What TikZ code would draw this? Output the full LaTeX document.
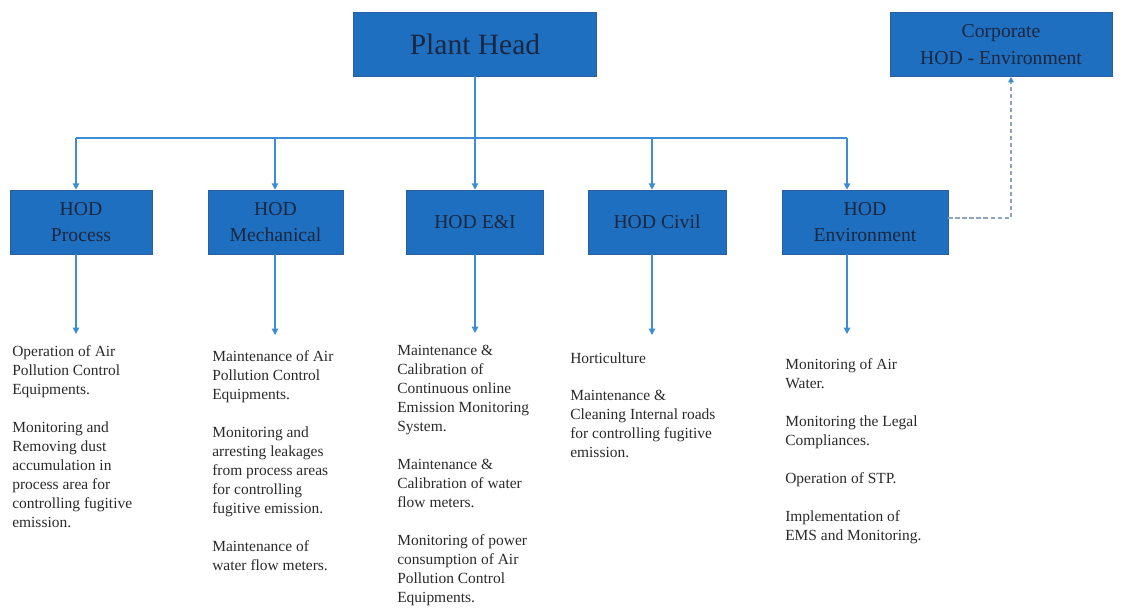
\documentclass[tikz,border=0pt]{standalone}
\usepackage{fontspec}
\setmainfont{Liberation Serif}
\usetikzlibrary{arrows.meta,positioning}
\definecolor{boxblue}{HTML}{1F6FC0}
\definecolor{boxedge}{HTML}{2B5E9C}
\definecolor{linkblue}{HTML}{3C8DD6}
\definecolor{boxtext}{HTML}{1A2740}
\definecolor{dutygray}{HTML}{2A2A2A}
\definecolor{dotgray}{HTML}{8FA3BA}

\begin{document}
\begin{tikzpicture}[x=0.025cm, y=-0.025cm,
	headnode/.style={rectangle, draw=boxedge, fill=boxblue, text=boxtext, minimum height=1.6cm, inner sep=2pt, align=center},
	hodnode/.style={headnode, font=\fontsize{14}{19}\selectfont},
	duties/.style={anchor=north west, align=left, inner sep=0pt, text=dutygray, font=\fontsize{11}{13.5}\selectfont},
	link/.style={draw=linkblue, line width=0.9pt, -{Triangle[length=4.5pt,width=4.5pt]}},
	dashlink/.style={draw=dotgray, densely dashed, line width=0.9pt, -{Triangle[length=4pt,width=4pt,color=linkblue]}}]
	\useasboundingbox (0,0) rectangle (1122,607);
	\node[headnode, minimum width=6.075cm, font=\fontsize{21}{25}\selectfont] (plant-head) at (475,44) {Plant Head};
	\node[hodnode, minimum width=5.55cm] (corporate) at (1001,44.5) {Corporate\\HOD - Environment};
	\node[hodnode, minimum width=3.55cm] (hod-process) at (81,222) {HOD\\Process};
	\node[hodnode, minimum width=3.375cm] (hod-mech) at (275.5,222) {HOD\\Mechanical};
	\node[hodnode, minimum width=3.425cm] (hod-ei) at (475,222) {HOD E\&I};
	\node[hodnode, minimum width=3.45cm] (hod-civil) at (657,222) {HOD Civil};
	\node[hodnode, minimum width=4.15cm] (hod-env) at (865,222) {HOD\\Environment};
	% duty lists
	\node[duties] (process-duties) at (12,345) {Operation of Air\\Pollution Control\\Equipments.\\[13.5pt]Monitoring and\\Removing dust\\accumulation in\\process area for\\controlling fugitive\\emission.};
	\node[duties] (mech-duties) at (212,350) {Maintenance of Air\\Pollution Control\\Equipments.\\[13.5pt]Monitoring and\\arresting leakages\\from process areas\\for controlling\\fugitive emission.\\[13.5pt]Maintenance of\\water flow meters.};
	\node[duties] (ei-duties) at (397,345) {Maintenance \&\\Calibration of\\Continuous online\\Emission Monitoring\\System.\\[13.5pt]Maintenance \&\\Calibration of water\\flow meters.\\[13.5pt]Monitoring of power\\consumption of Air\\Pollution Control\\Equipments.};
	\node[duties] (civil-duties) at (570,352) {Horticulture\\[13.5pt]Maintenance \&\\Cleaning Internal roads\\for controlling fugitive\\emission.};
	\node[duties] (env-duties) at (785,358) {Monitoring of Air\\Water.\\[13.5pt]Monitoring the Legal\\Compliances.\\[13.5pt]Operation of STP.\\[13.5pt]Implementation of\\EMS and Monitoring.};
	% bus and drops
	\coordinate (bus-process) at (76,138);
	\coordinate (bus-mech) at (275,138);
	\coordinate (bus-civil) at (652,138);
	\coordinate (bus-env) at (847,138);
	\coordinate (tip-process) at (76,334);
	\coordinate (tip-mech) at (275,335);
	\coordinate (tip-ei) at (475,333);
	\coordinate (tip-civil) at (652,335);
	\coordinate (tip-env) at (847,334);
	\draw[linkblue, line width=0.9pt] (bus-process) -- (bus-env);
	\draw[link] (plant-head) -- (hod-ei);
	\draw[link] (bus-process) -- (bus-process |- hod-process.north);
	\draw[link] (bus-mech) -- (bus-mech |- hod-mech.north);
	\draw[link] (bus-civil) -- (bus-civil |- hod-civil.north);
	\draw[link] (bus-env) -- (bus-env |- hod-env.north);
	\draw[link] (hod-process.south -| tip-process) -- (tip-process);
	\draw[link] (hod-mech.south -| tip-mech) -- (tip-mech);
	\draw[link] (hod-ei.south -| tip-ei) -- (tip-ei);
	\draw[link] (hod-civil.south -| tip-civil) -- (tip-civil);
	\draw[link] (hod-env.south -| tip-env) -- (tip-env);
	\draw[dashlink] ([yshift=0.1cm]hod-env.east) -| ([xshift=0.25cm]corporate.south);
\end{tikzpicture}
\end{document}
